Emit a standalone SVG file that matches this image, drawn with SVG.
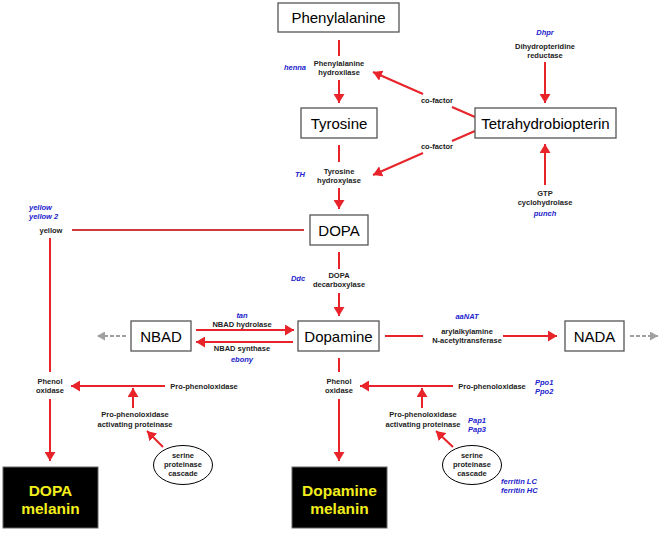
<svg xmlns="http://www.w3.org/2000/svg" width="661" height="533" viewBox="0 0 661 533">
<defs>
<marker id="ar" markerUnits="userSpaceOnUse" markerWidth="11" markerHeight="11" refX="9" refY="5.5" orient="auto" viewBox="0 0 11 11"><path d="M0,0 L9,5.5 L0,11 z" fill="#e8232a"/></marker>
<marker id="ag" markerUnits="userSpaceOnUse" markerWidth="9" markerHeight="9" refX="8" refY="4.5" orient="auto" viewBox="0 0 9 9"><path d="M0,0 L8,4.5 L0,9 z" fill="#a0a0a0"/></marker>
</defs>
<style>
.box{fill:#fff;stroke:#555;stroke-width:1.3}
.blk{fill:#000;stroke:#666;stroke-width:1}
.big{font-family:"Liberation Sans",Arial,sans-serif;font-size:15px;fill:#000;text-anchor:middle}
.mel{font-family:"Liberation Sans",Arial,sans-serif;font-size:15.5px;font-weight:bold;fill:#f2ee1c;text-anchor:middle}
.sm{font-family:"Liberation Sans",Arial,sans-serif;font-size:7.5px;font-weight:bold;fill:#222;text-anchor:middle}
.gn{font-family:"Liberation Sans",Arial,sans-serif;font-size:7.5px;font-weight:bold;font-style:italic;fill:#2222cc;text-anchor:middle}
.gl{text-anchor:start}
.ln{fill:none;stroke:#e8232a;stroke-width:2}
.lm{fill:none;stroke:#d03a3a;stroke-width:2}
.ds{fill:none;stroke:#a0a0a0;stroke-width:2;stroke-dasharray:4,2}
.el{fill:#fff;stroke:#000;stroke-width:1}
</style>
<g id="connectors">
<line class="ln" x1="339" y1="40" x2="339" y2="56"/>
<line class="ln" x1="339" y1="80" x2="339" y2="103" marker-end="url(#ar)"/>
<line class="ln" x1="545" y1="62" x2="545" y2="103" marker-end="url(#ar)"/>
<line class="ln" x1="475" y1="117" x2="452" y2="107"/>
<line class="ln" x1="423" y1="94" x2="373" y2="72" marker-end="url(#ar)"/>
<line class="ln" x1="475" y1="131" x2="452" y2="141"/>
<line class="ln" x1="423" y1="153" x2="373" y2="175" marker-end="url(#ar)"/>
<line class="ln" x1="545" y1="185" x2="545" y2="144" marker-end="url(#ar)"/>
<line class="ln" x1="339" y1="145" x2="339" y2="162"/>
<line class="ln" x1="339" y1="188" x2="339" y2="209" marker-end="url(#ar)"/>
<line class="ln" x1="339" y1="252" x2="339" y2="269"/>
<line class="ln" x1="339" y1="293" x2="339" y2="316" marker-end="url(#ar)"/>
<line class="lm" x1="72" y1="230" x2="304" y2="230"/>
<line class="ln" x1="50" y1="238" x2="50" y2="372"/>
<line class="ln" x1="50" y1="399" x2="50" y2="461" marker-end="url(#ar)"/>
<line class="ln" x1="165" y1="386" x2="71" y2="386" marker-end="url(#ar)"/>
<line class="ln" x1="133" y1="408" x2="133" y2="388" marker-end="url(#ar)"/>
<line class="ln" x1="163" y1="447" x2="147" y2="431" marker-end="url(#ar)"/>
<line class="ln" x1="196" y1="330" x2="294" y2="330" marker-end="url(#ar)"/>
<line class="ln" x1="293" y1="342" x2="196" y2="342" marker-end="url(#ar)"/>
<line class="ds" x1="126" y1="336" x2="97" y2="336" marker-end="url(#ag)"/>
<line class="ln" x1="385" y1="336" x2="423" y2="336"/>
<line class="ln" x1="503" y1="336" x2="557" y2="336" marker-end="url(#ar)"/>
<line class="ds" x1="630" y1="336" x2="658" y2="336" marker-end="url(#ag)"/>
<line class="ln" x1="339" y1="358" x2="339" y2="372"/>
<line class="ln" x1="339" y1="399" x2="339" y2="461" marker-end="url(#ar)"/>
<line class="ln" x1="453" y1="386" x2="360" y2="386" marker-end="url(#ar)"/>
<line class="ln" x1="422" y1="408" x2="422" y2="388" marker-end="url(#ar)"/>
<line class="ln" x1="453" y1="447" x2="436" y2="431" marker-end="url(#ar)"/>
</g>
<g id="phenylalanine"><rect class="box" x="278" y="3" width="121" height="29"/><text class="big" x="338.5" y="23">Phenylalanine</text></g>
<g id="tyrosine"><rect class="box" x="301" y="108" width="76" height="30"/><text class="big" x="339" y="129">Tyrosine</text></g>
<g id="tetrahydrobiopterin"><rect class="box" x="475" y="108" width="141" height="30"/><text class="big" x="545.5" y="129">Tetrahydrobiopterin</text></g>
<g id="dopa"><rect class="box" x="310" y="215" width="58" height="30"/><text class="big" x="339" y="236">DOPA</text></g>
<g id="nbad"><rect class="box" x="131" y="321" width="60" height="30"/><text class="big" x="161" y="342">NBAD</text></g>
<g id="dopamine"><rect class="box" x="298" y="321" width="81" height="30"/><text class="big" x="338.5" y="342">Dopamine</text></g>
<g id="nada"><rect class="box" x="565" y="321" width="59" height="30"/><text class="big" x="594.5" y="342">NADA</text></g>
<g id="dopa-melanin"><rect class="blk" x="3" y="467" width="95" height="61"/><text class="mel" x="50.5" y="496">DOPA</text><text class="mel" x="50.5" y="514">melanin</text></g>
<g id="dopamine-melanin"><rect class="blk" x="292" y="467" width="95" height="61"/><text class="mel" x="339.5" y="496">Dopamine</text><text class="mel" x="339.5" y="514">melanin</text></g>
<g id="serine-left"><ellipse class="el" cx="183" cy="465" rx="29.5" ry="19.5"/><text class="sm" x="183" y="458">serine</text><text class="sm" x="183" y="467">proteinase</text><text class="sm" x="183" y="476">cascade</text></g>
<g id="serine-right"><ellipse class="el" cx="472" cy="465" rx="29.5" ry="19.5"/><text class="sm" x="472" y="458">serine</text><text class="sm" x="472" y="467">proteinase</text><text class="sm" x="472" y="476">cascade</text></g>
<g id="labels">
<text class="sm" x="339" y="66">Phenylalanine</text><text class="sm" x="339" y="75">hydroxilase</text>
<text class="gn" x="295" y="70">henna</text>
<text class="gn" x="545" y="35">Dhpr</text>
<text class="sm" x="545" y="49">Dihydropteridine</text><text class="sm" x="545" y="58">reductase</text>
<text class="sm" x="437" y="103">co-factor</text>
<text class="sm" x="437" y="149">co-factor</text>
<text class="sm" x="339" y="174">Tyrosine</text><text class="sm" x="339" y="183">hydroxylase</text>
<text class="gn" x="300" y="177">TH</text>
<text class="sm" x="545" y="196">GTP</text><text class="sm" x="545" y="205">cyclohydrolase</text>
<text class="gn" x="545" y="216">punch</text>
<text class="sm" x="339" y="278">DOPA</text><text class="sm" x="339" y="287">decarboxylase</text>
<text class="gn" x="298" y="281">Ddc</text>
<text class="gn gl" x="29" y="210">yellow</text><text class="gn gl" x="29" y="219">yellow 2</text>
<text class="sm" x="51" y="233">yellow</text>
<text class="gn" x="242" y="318">tan</text>
<text class="sm" x="242" y="327">NBAD hydrolase</text>
<text class="sm" x="242" y="351">NBAD synthase</text>
<text class="gn" x="242" y="362">ebony</text>
<text class="gn" x="467" y="319">aaNAT</text>
<text class="sm" x="467" y="334">arylalkylamine</text><text class="sm" x="467" y="343">N-acetyltransferase</text>
<text class="sm" x="50" y="384">Phenol</text><text class="sm" x="50" y="393">oxidase</text>
<text class="sm" x="204" y="389">Pro-phenoloxidase</text>
<text class="sm" x="135" y="417">Pro-phenoloxidase</text><text class="sm" x="135" y="427">activating proteinase</text>
<text class="sm" x="339" y="384">Phenol</text><text class="sm" x="339" y="393">oxidase</text>
<text class="sm" x="492" y="389">Pro-phenoloxidase</text>
<text class="gn gl" x="535" y="385">Ppo1</text><text class="gn gl" x="535" y="394">Ppo2</text>
<text class="sm" x="423" y="417">Pro-phenoloxidase</text><text class="sm" x="423" y="427">activating proteinase</text>
<text class="gn gl" x="468" y="423">Pap1</text><text class="gn gl" x="468" y="432">Pap3</text>
<text class="gn gl" x="501" y="484">ferritin LC</text><text class="gn gl" x="501" y="493">ferritin HC</text>
</g>
</svg>
